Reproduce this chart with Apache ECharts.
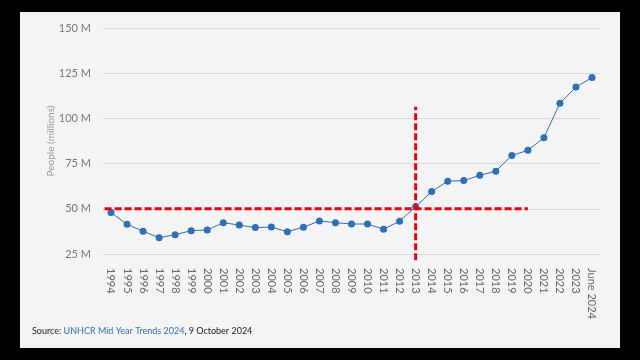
<!DOCTYPE html>
<html>
<head>
<meta charset="utf-8">
<script src="https://cdn.jsdelivr.net/npm/echarts@6/dist/echarts.min.js"></script>
<style>
  html, body { margin: 0; padding: 0; background: #000; }
  #chart { width: 640px; height: 360px; }
</style>
</head>
<body>
<div id="chart"></div>
<script>
const categories = ['1994','1995','1996','1997','1998','1999','2000','2001','2002','2003','2004','2005','2006','2007','2008','2009','2010','2011','2012','2013','2014','2015','2016','2017','2018','2019','2020','2021','2022','2023','June 2024'];
const people = [47.9,41.4,37.6,34.0,35.7,37.9,38.3,42.3,41.0,39.6,39.9,37.3,39.8,43.3,42.3,41.6,41.6,38.7,43.1,51.2,59.5,65.3,65.6,68.5,70.8,79.5,82.4,89.3,108.4,117.3,122.6];
const yTicks = [25, 50, 75, 100, 125, 150];
const hLine = [[-0.4, 50], [26, 50]];
const vLine = [[19, 21.5], [19, 106.5]];

const chart = echarts.init(document.getElementById('chart'));
const FONT = 'Lato, "Open Sans", sans-serif';
chart.setOption({
  backgroundColor: '#000',
  animation: false,
  graphic: [
    { type: 'rect', z: -10, shape: { x: 20, y: 12, width: 600, height: 336 }, style: { fill: '#f4f4f4' } },
    { type: 'text', left: 32, top: 327, style: {
      text: '{a|Source: }{b|UNHCR Mid Year Trends 2024}{a|, 9 October 2024}',
      rich: {
        a: { fontSize: 9, fontFamily: FONT, fill: '#222' },
        b: { fontSize: 9, fontFamily: FONT, fill: '#2f6fb5' }
      }
    } }
  ],
  grid: { left: 103, right: 40, top: 28, bottom: 106 },
  xAxis: [
    { type: 'category', data: categories, boundaryGap: true,
      axisLine: { show: false }, axisTick: { show: false },
      axisLabel: { rotate: -90, margin: 14, fontSize: 11, color: '#666', fontFamily: FONT, interval: 0 } },
    { type: 'value', min: -0.5, max: 30.5, show: false }
  ],
  yAxis: {
    type: 'value', min: yTicks[0], max: yTicks[yTicks.length - 1], interval: 25,
    name: 'People (millions)', nameLocation: 'middle', nameGap: 47, nameMoveOverlap: false,
    nameTextStyle: { fontSize: 10, color: '#999', fontFamily: FONT },
    axisLine: { show: false }, axisTick: { show: false },
    axisLabel: { formatter: v => v + ' M', fontSize: 11, color: '#777', margin: 12, fontFamily: FONT },
    splitLine: { lineStyle: { color: '#d9d9d9', width: 1 } }
  },
  series: [
    { type: 'line', data: people, xAxisIndex: 0, symbol: 'circle', symbolSize: 7,
      lineStyle: { color: '#2f6fb5', width: 1 }, itemStyle: { color: '#2f6fb5' }, z: 3 },
    { type: 'line', data: hLine, xAxisIndex: 1, symbol: 'none', z: 4, clip: false,
      lineStyle: { color: '#e8000b', width: 3, type: [7, 3] } },
    { type: 'line', data: vLine, xAxisIndex: 1, symbol: 'none', z: 4, clip: false,
      lineStyle: { color: '#e8000b', width: 3, type: [7, 3] } }
  ]
});
</script>
</body>
</html>
